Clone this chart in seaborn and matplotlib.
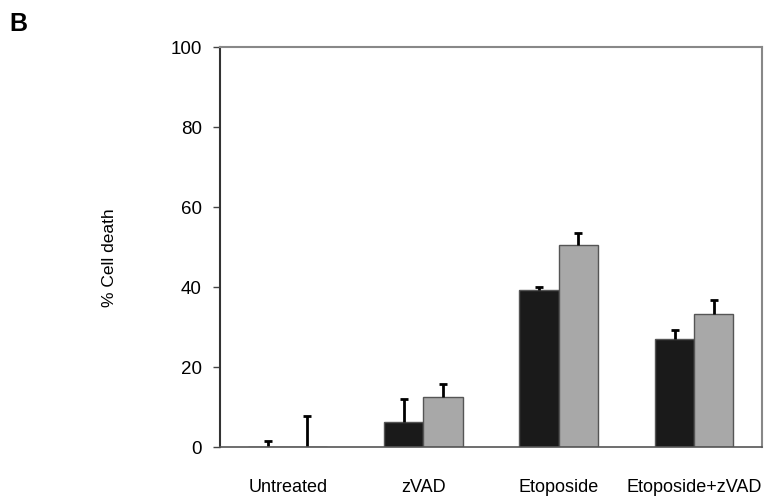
"""
Bar chart of % cell death per treatment, two series with one-sided error bars.
"""

import numpy as np
import pandas as pd
import seaborn as sns
import matplotlib.pyplot as plt

# Values
treatments = ['Untreated', 'zVAD', 'Etoposide', 'Etoposide+zVAD']
series = ['A', 'B']
death_a = [0.0, 6.2, 39.2, 26.9]
death_b = [0.0, 12.4, 50.6, 33.2]
err_a = [1.6, 5.7, 0.9, 2.3]
err_b = [7.8, 3.4, 3.0, 3.5]
yticks = [0, 20, 40, 60, 80, 100]

data = pd.DataFrame({
    'treatment': treatments * 2,
    'series': [series[0]] * 4 + [series[1]] * 4,
    'death': death_a + death_b,
    'err': err_a + err_b,
})

sns.set_style('white')
plt.rcParams['font.family'] = ['Liberation Sans', 'DejaVu Sans']
plt.rcParams['text.color'] = 'black'
plt.rcParams['axes.labelcolor'] = 'black'
plt.rcParams['xtick.labelcolor'] = 'black'
plt.rcParams['ytick.labelcolor'] = 'black'

fig = plt.figure(figsize=(7.65, 4.99), dpi=100)
ax = fig.add_axes([0.2876, 0.1042, 0.7084, 0.8016])

palette = {'A': '#1a1a1a', 'B': '#a8a8a8'}
sns.barplot(data=data, x='treatment', y='death', hue='series', order=treatments,
            hue_order=series, palette=palette, width=0.58, errorbar=None,
            edgecolor='#555555', linewidth=1.0, saturation=1, legend=False, ax=ax)

# One-sided error bars on top of each bar (upper cap only)
for patch, (_, row) in zip(ax.patches, data.iterrows()):
    cx = patch.get_x() + patch.get_width() / 2
    _, caps, _ = ax.errorbar(cx, row['death'], yerr=[[0], [row['err']]], fmt='none',
                             ecolor='black', elinewidth=2, capsize=3, capthick=2)
    caps[0].set_visible(False)

ax.set_ylim(0, 100)
ax.set_xlim(-0.5, 3.5)
ax.set_yticks(yticks)
ax.set_xlabel('')
ax.set_ylabel('% Cell death', fontsize=12.5)
ax.yaxis.set_label_coords(-0.19, 0.4725)

# category dividers as downward ticks
ax.set_xticks(np.arange(0.5, 4, 1), minor=True)
ax.tick_params(axis='x', which='minor', direction='out', length=8, width=1, color='#444444')
ax.tick_params(axis='x', which='major', length=0, pad=23, labelsize=13)
ax.tick_params(axis='y', direction='out', length=5, width=1, color='#444444',
               pad=8, labelsize=13.5, left=True)

for side in ['top', 'right']:
    ax.spines[side].set_color('#888888')
    ax.spines[side].set_linewidth(1.5)
ax.spines['left'].set_color('#333333')
ax.spines['left'].set_linewidth(1.5)
ax.spines['bottom'].set_color('#555555')
ax.spines['bottom'].set_linewidth(1.2)

fig.text(0.012, 0.938, 'B', fontsize=18, fontweight='bold')

plt.savefig('out.png', dpi=100)
